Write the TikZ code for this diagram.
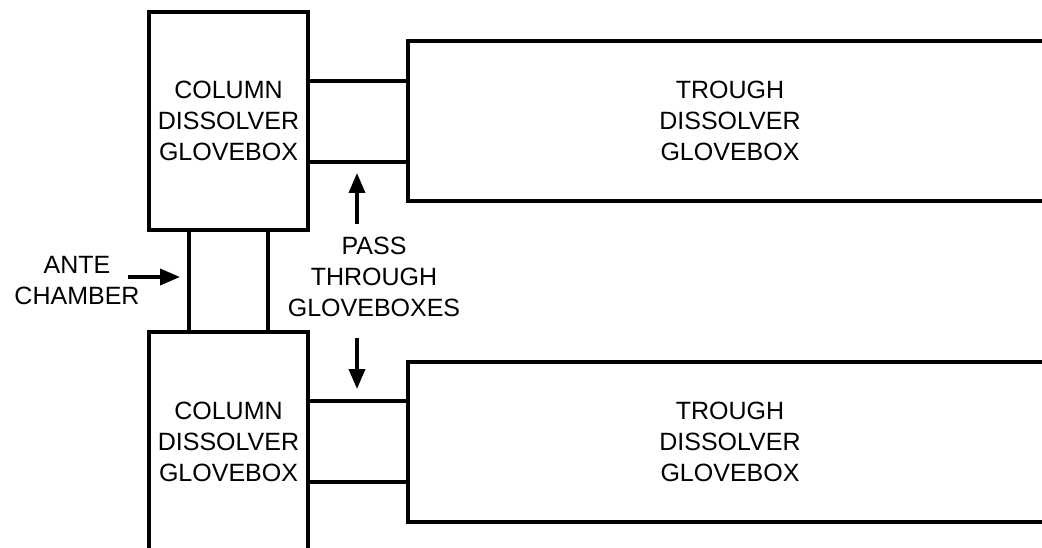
\documentclass[tikz,border=0pt]{standalone}
\usepackage{fontspec}
\setmainfont{Liberation Sans}
\usetikzlibrary{arrows.meta,positioning}

\begin{document}
\begin{tikzpicture}[x=1pt,y=-1pt,
    box/.style={draw,line width=4pt,align=center,inner sep=0pt,outer sep=0pt,
                font=\fontsize{25}{31}\selectfont},
    lbl/.style={align=center,inner sep=0pt,font=\fontsize{25}{31}\selectfont},
    wall/.style={line width=4pt},
    arr/.style={line width=3.5pt,-{Triangle[length=20pt,width=16pt]}}]
  \path[use as bounding box,clip] (0,0) rectangle (1042,548);

  % gloveboxes
  \node[box,minimum width=159pt,minimum height=218pt] (colA) at (228.5,121) {COLUMN\\DISSOLVER\\GLOVEBOX};
  \node[box,minimum width=159pt,minimum height=220pt] (colB) at (228.5,442) {COLUMN\\DISSOLVER\\GLOVEBOX};
  \node[box,minimum width=644pt,minimum height=160pt,anchor=west] (trA) at (408,121) {TROUGH\\DISSOLVER\\GLOVEBOX};
  \node[box,minimum width=644pt,minimum height=160pt,anchor=west] (trB) at (408,442) {TROUGH\\DISSOLVER\\GLOVEBOX};

  % pass through gloveboxes
  \draw[wall] ([yshift=40pt]colA.east) -- ([yshift=40pt]trA.west);
  \draw[wall] ([yshift=-41pt]colA.east) -- ([yshift=-41pt]trA.west);
  \draw[wall] ([yshift=41pt]colB.east) -- ([yshift=41pt]trB.west);
  \draw[wall] ([yshift=-40pt]colB.east) -- ([yshift=-40pt]trB.west);

  % ante chamber
  \draw[wall] ([xshift=-39.5pt]colA.south) -- ([xshift=-39.5pt]colB.north);
  \draw[wall] ([xshift=39.5pt]colA.south) -- ([xshift=39.5pt]colB.north);

  \node[lbl] (ante) at (77,281) {ANTE\\CHAMBER};
  \node[lbl] (pass) at (374,277) {PASS\\THROUGH\\GLOVEBOXES};

  \coordinate (anteTail) at (128,277);
  \coordinate (anteTip) at (180,277);
  \coordinate (upTail) at (357,224);
  \coordinate (upTip) at (357,173);
  \coordinate (downTail) at (357,338);
  \coordinate (downTip) at (357,389);
  \draw[arr] (anteTail) -- (anteTip);
  \draw[arr] (upTail) -- (upTip);
  \draw[arr] (downTail) -- (downTip);
\end{tikzpicture}
\end{document}
